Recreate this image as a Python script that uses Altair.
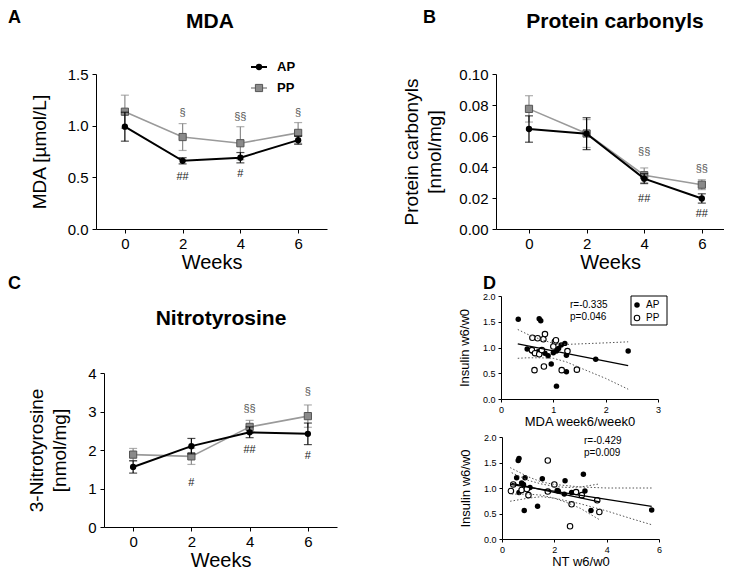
import altair as alt
import pandas as pd

# ---------------- data ----------------
WEEKS = [0, 2, 4, 6]
GROUPS = ["AP", "PP"]

MDA_AP = [0.99, 0.66, 0.69, 0.86]
MDA_AP_SEM = [0.14, 0.03, 0.05, 0.04]
MDA_PP = [1.135, 0.89, 0.83, 0.93]
MDA_PP_SEM = [0.16, 0.13, 0.16, 0.10]
MDA_SIG_TEXT = ["§", "§§", "§", "##", "#"]
MDA_SIG_WEEK = [2, 4, 6, 2, 4]
MDA_SIG_LEVEL = [1.12, 1.08, 1.12, 0.505, 0.53]

PC_AP = [0.0645, 0.0615, 0.0325, 0.0197]
PC_AP_SEM = [0.0085, 0.0103, 0.0032, 0.0030]
PC_PP = [0.0775, 0.0616, 0.0347, 0.0286]
PC_PP_SEM = [0.0085, 0.0090, 0.0047, 0.0032]
PC_SIG_TEXT = ["§§", "§§", "##", "##"]
PC_SIG_WEEK = [4, 6, 4, 6]
PC_SIG_LEVEL = [0.0498, 0.0384, 0.0196, 0.0095]

NT_AP = [1.56, 2.10, 2.46, 2.42]
NT_AP_SEM = [0.16, 0.20, 0.14, 0.28]
NT_PP = [1.88, 1.835, 2.60, 2.88]
NT_PP_SEM = [0.16, 0.21, 0.17, 0.29]
NT_SIG_TEXT = ["#", "§§", "##", "§", "#"]
NT_SIG_WEEK = [2, 4, 4, 6, 6]
NT_SIG_LEVEL = [1.14, 3.07, 1.99, 3.51, 1.84]

# scatter D (top): MDA week6/week0 vs insulin w6/w0
D1_AP_X = [0.33, 0.73, 0.76, 0.50, 0.59, 0.65, 0.71, 0.84, 0.90, 0.96, 1.00, 1.06, 1.10, 1.15, 1.22, 1.25, 1.25, 1.06, 1.81, 2.43]
D1_AP_Y = [1.55, 1.56, 1.52, 0.97, 0.93, 0.89, 0.92, 0.89, 0.84, 0.68, 0.90, 0.93, 0.98, 1.05, 1.08, 0.85, 0.53, 0.25, 0.77, 0.93]
D1_PP_X = [0.60, 0.70, 0.81, 0.84, 1.03, 1.05, 0.59, 0.65, 0.73, 0.78, 0.64, 0.82, 1.16, 1.45, 1.27, 1.00]
D1_PP_Y = [1.19, 1.18, 1.16, 1.26, 1.11, 1.14, 0.95, 0.89, 0.87, 0.95, 0.56, 0.63, 0.56, 0.57, 0.93, 1.02]
D1_FIT_X = [0.32, 2.43]
D1_FIT_Y = [1.07, 0.65]
D1_BAND_X = [0.32, 0.50, 0.75, 1.00, 1.25, 1.50, 2.00, 2.43]
D1_BAND_UP = [1.35, 1.26, 1.16, 1.08, 1.06, 1.07, 1.09, 1.11]
D1_BAND_LO = [0.79, 0.80, 0.80, 0.79, 0.72, 0.61, 0.40, 0.19]
D1_STATS = ["r=-0.335", "p=0.046"]

# scatter D (bottom): NT w6/w0 vs insulin w6/w0
D2_AP_X = [0.65, 0.62, 0.56, 0.88, 0.75, 0.82, 0.65, 1.07, 0.85, 1.36, 1.54, 2.11, 2.15, 2.41, 2.38, 2.66, 3.11, 3.17, 3.40, 5.72]
D2_AP_Y = [1.58, 1.54, 1.20, 1.20, 1.10, 1.07, 0.91, 1.01, 0.56, 0.64, 1.18, 0.95, 0.94, 1.14, 0.88, 0.91, 1.27, 0.94, 0.56, 0.57]
D2_PP_X = [1.75, 0.34, 0.43, 1.01, 0.75, 1.75, 2.00, 2.66, 2.60, 2.83, 3.05, 3.64, 3.72, 0.95]
D2_PP_Y = [1.54, 0.94, 1.07, 0.86, 0.96, 0.93, 1.07, 0.68, 0.25, 0.92, 0.86, 0.76, 0.53, 0.98]
D2_FIT_X = [0.31, 5.72]
D2_FIT_Y = [1.07, 0.64]
D2_BAND_X = [0.31, 1.00, 1.50, 2.00, 3.00, 4.00, 5.00, 5.72]
D2_BAND_UP = [1.40, 1.22, 1.12, 1.07, 1.02, 1.00, 1.00, 1.00]
D2_BAND_LO = [0.74, 0.80, 0.83, 0.80, 0.69, 0.55, 0.39, 0.28]
D2_FIT2_X = [0.37, 3.72]
D2_FIT2_Y = [1.09, 0.73]
D2_BAND2_X = [0.37, 1.00, 1.50, 2.00, 2.50, 3.00, 3.72]
D2_BAND2_UP = [1.30, 1.15, 1.08, 1.03, 1.01, 1.02, 1.08]
D2_BAND2_LO = [0.88, 0.88, 0.86, 0.80, 0.71, 0.60, 0.38]
D2_STATS = ["r=-0.429", "p=0.009"]

PANEL_LETTERS = ["A", "B", "C", "D"]
PANEL_TITLES = ["MDA", "Protein carbonyls", "Nitrotyrosine"]

# ---------------- styling ----------------
W, H = 716, 561
FONT = "Liberation Sans"
AP_COL = "#000000"
PP_LINE = "#9a9a9a"
PP_BAR = "#8c8c8c"
PP_FILL = "#8a8a8a"
PP_EDGE = "#555555"


def axis_common(**kw):
    base = dict(grid=False, domainColor="black", tickColor="black", labelColor="black",
                titleColor="black", labelFlush=False, labelOverlap=False,
                titleFontWeight="normal", domainWidth=1, tickWidth=1)
    base.update(kw)
    return alt.Axis(**base)


def main_panel(ap, ap_err, pp, pp_err, sig_text, sig_week, sig_level,
               xdom, xr, ydom, yr, yvals, yfmt, ytitle, ytp, xtp):
    rows = []
    for g, vals, errs in (("AP", ap, ap_err), ("PP", pp, pp_err)):
        for w, v, e in zip(WEEKS, vals, errs):
            rows.append({"week": w, "series": g, "mean": v, "lo": v - e, "hi": v + e})
    df = pd.DataFrame(rows)
    sig = pd.DataFrame({"week": sig_week, "level": sig_level, "label": sig_text})

    xs = alt.Scale(domain=xdom, range=xr, nice=False, zero=False)
    ys = alt.Scale(domain=ydom, range=yr, nice=False, zero=False)
    xax = axis_common(orient="bottom", offset=yr[0] - H, values=WEEKS, title="Weeks",
                      titleFontSize=20, labelFontSize=15, tickSize=4, labelPadding=3,
                      titlePadding=xtp)
    yax = axis_common(orient="left", offset=-xr[0], values=yvals, format=yfmt, title=ytitle,
                      titleFontSize=19, titleLineHeight=23, labelFontSize=15, tickSize=4,
                      labelPadding=4, titlePadding=ytp)
    X = alt.X("week:Q", scale=xs, axis=xax)

    def Y(f):
        return alt.Y(f + ":Q", scale=ys, axis=yax)

    base = alt.Chart(df)
    layers = []
    for g in ["PP", "AP"]:
        sub = base.transform_filter(alt.datum.series == g)
        bar = AP_COL if g == "AP" else PP_BAR
        layers.append(sub.mark_rule(color=bar, strokeWidth=1.2).encode(x=X, y=Y("lo"), y2="hi:Q"))
        for f in ("lo", "hi"):
            layers.append(sub.mark_tick(orient="horizontal", color=bar, size=8, thickness=1.2)
                          .encode(x=X, y=Y(f)))
        if g == "PP":
            layers.append(sub.mark_line(color=PP_LINE, strokeWidth=1.6).encode(x=X, y=Y("mean")))
            layers.append(sub.mark_point(shape="square", filled=True, size=52, fill=PP_FILL,
                                         stroke=PP_EDGE, strokeWidth=1, opacity=1)
                          .encode(x=X, y=Y("mean")))
        else:
            layers.append(sub.mark_line(color=AP_COL, strokeWidth=2).encode(x=X, y=Y("mean")))
            layers.append(sub.mark_point(shape="circle", filled=True, size=40, color=AP_COL,
                                         opacity=1).encode(x=X, y=Y("mean")))
    layers.append(alt.Chart(sig).mark_text(fontSize=11).encode(
        x=X, y=Y("level"), text="label:N",
        color=alt.condition("indexof(datum.label, '§') >= 0", alt.value("#555555"), alt.value("#222222"))))
    return alt.layer(*layers)


def scatter_panel(apx, apy, ppx, ppy, fits, bands, xdom, xr, yr, xvals, xtitle, xtp, ytp):
    pts = pd.DataFrame({"x": apx + ppx, "y": apy + ppy,
                        "series": ["AP"] * len(apx) + ["PP"] * len(ppx)})
    fit_rows, band_rows = [], []
    for k, (fx, fy) in enumerate(fits):
        for a, b in zip(fx, fy):
            fit_rows.append({"x": a, "y": b, "line": k})
    for k, (bx, by) in enumerate(bands):
        for a, b in zip(bx, by):
            band_rows.append({"x": a, "y": b, "line": k})
    xs = alt.Scale(domain=xdom, range=xr, nice=False, zero=False)
    ys = alt.Scale(domain=[0, 2], range=yr, nice=False, zero=False)
    xax = axis_common(orient="bottom", offset=yr[0] - H, values=xvals, title=xtitle,
                      titleFontSize=13, labelFontSize=9, tickSize=3, labelPadding=3,
                      titlePadding=xtp, format="d")
    yax = axis_common(orient="left", offset=-xr[0], values=[0, 0.5, 1.0, 1.5, 2.0], format=".1f",
                      title="Insulin w6/w0", titleFontSize=13, labelFontSize=9, tickSize=3,
                      labelPadding=3, titlePadding=ytp)
    X = alt.X("x:Q", scale=xs, axis=xax)
    Y = alt.Y("y:Q", scale=ys, axis=yax)
    layers = [
        alt.Chart(pts).transform_filter(alt.datum.series == "AP").mark_point(
            shape="circle", filled=True, size=30, color="black", opacity=1).encode(x=X, y=Y),
        alt.Chart(pts).transform_filter(alt.datum.series == "PP").mark_point(
            shape="circle", filled=True, size=30, fill="white", stroke="black", strokeWidth=1.1,
            opacity=1).encode(x=X, y=Y),
        alt.Chart(pd.DataFrame(band_rows)).mark_line(color="#555555", strokeWidth=1,
                                                     strokeDash=[1.5, 2]).encode(
            x=X, y=Y, detail="line:N"),
        alt.Chart(pd.DataFrame(fit_rows)).mark_line(color="black", strokeWidth=1.3).encode(
            x=X, y=Y, detail="line:N"),
    ]
    return alt.layer(*layers)


panel_a = main_panel(MDA_AP, MDA_AP_SEM, MDA_PP, MDA_PP_SEM, MDA_SIG_TEXT, MDA_SIG_WEEK, MDA_SIG_LEVEL,
                     [-1, 7], [88, 319], [0, 1.5], [221, 66], [0, 0.5, 1.0, 1.5], ".1f",
                     "MDA [µmol/L]", 18, 1)
panel_b = main_panel(PC_AP, PC_AP_SEM, PC_PP, PC_PP_SEM, PC_SIG_TEXT, PC_SIG_WEEK, PC_SIG_LEVEL,
                     [-1.145, 6.77], [488, 716], [0, 0.10], [221, 66], [0, 0.02, 0.04, 0.06, 0.08, 0.10],
                     ".2f", ["Protein carbonyls", "[nmol/mg]"], 14, 1)
panel_c = main_panel(NT_AP, NT_AP_SEM, NT_PP, NT_PP_SEM, NT_SIG_TEXT, NT_SIG_WEEK, NT_SIG_LEVEL,
                     [-1, 7], [96, 329], [0, 4], [519, 365], [0, 1, 2, 3, 4], "d",
                     ["3-Nitrotyrosine", "[nmol/mg]"], 18, 1)
panel_d1 = scatter_panel(D1_AP_X, D1_AP_Y, D1_PP_X, D1_PP_Y,
                         [(D1_FIT_X, D1_FIT_Y)],
                         [(D1_BAND_X, D1_BAND_UP), (D1_BAND_X, D1_BAND_LO)],
                         [0, 3], [493, 650], [391, 288], [0, 1, 2, 3], "MDA week6/week0", 1, 11)
panel_d2 = scatter_panel(D2_AP_X, D2_AP_Y, D2_PP_X, D2_PP_Y,
                         [(D2_FIT_X, D2_FIT_Y), (D2_FIT2_X, D2_FIT2_Y)],
                         [(D2_BAND_X, D2_BAND_UP), (D2_BAND_X, D2_BAND_LO),
                          (D2_BAND2_X, D2_BAND2_UP), (D2_BAND2_X, D2_BAND2_LO)],
                         [0, 6], [494, 651], [531, 429], [0, 2, 4, 6], "NT w6/w0", 1, 11)

# ---------------- decorations: letters, titles, legends, stats ----------------
deco = []
letter_pos = [(0, 15), (415, 15), (0, 281), (475, 281)]
for lab, (px, py) in zip(PANEL_LETTERS, letter_pos):
    deco.append(alt.Chart(pd.DataFrame({"t": [lab]})).mark_text(
        fontSize=18, fontWeight="bold", align="left", baseline="alphabetic", color="black")
        .encode(text="t:N", x=alt.value(px), y=alt.value(py)))
title_pos = [(202, 20), (607, 20), (213, 317)]
for lab, (px, py) in zip(PANEL_TITLES, title_pos):
    deco.append(alt.Chart(pd.DataFrame({"t": [lab]})).mark_text(
        fontSize=21, fontWeight="bold", align="center", baseline="alphabetic", color="black")
        .encode(text="t:N", x=alt.value(px), y=alt.value(py)))

# legend of panel A
leg = pd.DataFrame({"series": GROUPS})
for g, ly in zip(GROUPS, [59, 80]):
    sub = alt.Chart(leg).transform_filter(alt.datum.series == g)
    if g == "AP":
        deco.append(sub.mark_rule(color=AP_COL, strokeWidth=2).encode(
            x=alt.value(243), x2=alt.value(259), y=alt.value(ly)))
        deco.append(sub.mark_point(shape="circle", filled=True, size=40, color=AP_COL, opacity=1)
                    .encode(x=alt.value(251), y=alt.value(ly)))
    else:
        deco.append(sub.mark_rule(color=PP_LINE, strokeWidth=1.6).encode(
            x=alt.value(243), x2=alt.value(259), y=alt.value(ly)))
        deco.append(sub.mark_point(shape="square", filled=True, size=52, fill=PP_FILL,
                                   stroke=PP_EDGE, strokeWidth=1, opacity=1)
                    .encode(x=alt.value(251), y=alt.value(ly)))
    deco.append(sub.mark_text(fontSize=13, fontWeight="bold", align="left", baseline="middle",
                              color="black")
                .encode(text="series:N", x=alt.value(269), y=alt.value(ly)))

# legend of panel D (top)
deco.append(alt.Chart(leg).transform_filter(alt.datum.series == "AP").mark_rect(
    fill="white", stroke="black", strokeWidth=1).encode(
    x=alt.value(623), x2=alt.value(659), y=alt.value(288), y2=alt.value(317)))
for g, ly in zip(GROUPS, [297, 310]):
    sub = alt.Chart(leg).transform_filter(alt.datum.series == g)
    if g == "AP":
        deco.append(sub.mark_point(shape="circle", filled=True, size=30, color="black", opacity=1)
                    .encode(x=alt.value(629), y=alt.value(ly)))
    else:
        deco.append(sub.mark_point(shape="circle", filled=True, size=30, fill="white",
                                   stroke="black", strokeWidth=1.1, opacity=1)
                    .encode(x=alt.value(629), y=alt.value(ly)))
    deco.append(sub.mark_text(fontSize=10, align="left", baseline="middle", color="black")
                .encode(text="series:N", x=alt.value(638), y=alt.value(ly)))

# r / p statistics
for stats, px, ys_ in ((D1_STATS, 562, [297, 309]), (D2_STATS, 576, [433, 445])):
    for s, py in zip(stats, ys_):
        deco.append(alt.Chart(pd.DataFrame({"t": [s]})).mark_text(
            fontSize=10, align="left", baseline="middle", color="black")
            .encode(text="t:N", x=alt.value(px), y=alt.value(py)))

chart = alt.layer(panel_a, panel_b, panel_c, panel_d1, panel_d2, *deco).resolve_scale(
    x="independent", y="independent"
).properties(
    width=W, height=H, padding=0,
    autosize=alt.AutoSizeParams(type="none", contains="padding"),
    background="white",
).configure(font=FONT).configure_view(stroke=None)

chart.save("out.html", embed_options={"renderer": "svg", "actions": False})
